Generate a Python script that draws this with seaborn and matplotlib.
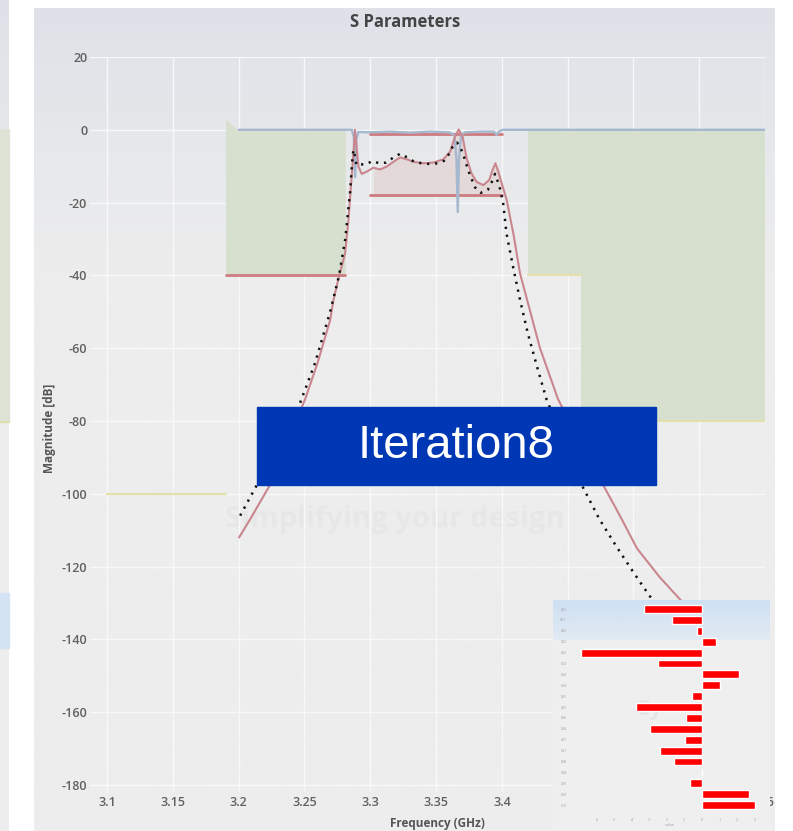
import numpy as np
import pandas as pd
import matplotlib
matplotlib.use("Agg")
import matplotlib.pyplot as plt
import seaborn as sns
from matplotlib.patches import Rectangle

# ---------------- data ----------------
red_freq = [3.2003, 3.2087, 3.2239, 3.2505, 3.2600, 3.2695, 3.2720, 3.2765, 3.2809,
            3.2834, 3.2872, 3.2884, 3.2910, 3.2935, 3.2973, 3.3024, 3.3074, 3.3125,
            3.3176, 3.3226, 3.3277, 3.3328, 3.3404, 3.3480, 3.3556, 3.3607, 3.3644,
            3.3672, 3.3702, 3.3732, 3.3770, 3.3808, 3.3859, 3.3904, 3.3930, 3.3951,
            3.3973, 3.3999, 3.4037, 3.4090, 3.4138, 3.4290, 3.4427, 3.4594, 3.4746,
            3.4897, 3.5027, 3.5202, 3.5354, 3.5500]
red_db = [-112, -107, -97.5, -74, -64, -52.3, -46.8, -39.9, -33.9,
          -24.8, -6.5, 0.0, -10.1, -12.1, -11.5, -10.4, -10.9, -10.1,
          -8.8, -7.6, -8.1, -8.8, -9.2, -9.0, -8.1, -6.0, -1.9,
          0.1, -1.9, -7.8, -12.0, -14.3, -15.2, -13.8, -11.0, -9.2,
          -11.5, -14.7, -19.3, -29, -39.4, -60, -74, -86, -96,
          -106, -115, -123, -129, -135]

dot_freq = [3.2011, 3.2109, 3.2239, 3.2353, 3.2467, 3.2581, 3.2695, 3.2763, 3.2810,
            3.2847, 3.2862, 3.2872, 3.2884, 3.2895, 3.2923, 3.2966, 3.3016, 3.3069,
            3.3120, 3.3176, 3.3226, 3.3282, 3.3335, 3.3391, 3.3454, 3.3510, 3.3561,
            3.3602, 3.3632, 3.3660, 3.3700, 3.3745, 3.3796, 3.3840, 3.3893, 3.3923,
            3.3948, 3.3981, 3.4011, 3.4035, 3.4085, 3.4138, 3.4198, 3.4267, 3.4339,
            3.4476, 3.4613, 3.4742, 3.4871, 3.5008, 3.5122, 3.5250]
dot_db = [-106, -99.5, -91, -84, -75, -64, -50, -40, -30,
          -17, -9, -5.5, -7.4, -9.7, -9.5, -9.5, -8.6, -9.2,
          -9.0, -7.6, -6.6, -7.6, -8.8, -9.2, -9.4, -9.2, -8.5,
          -6.5, -4.2, -3.5, -6.0, -11.2, -15.8, -17.3, -16.5, -14.4,
          -12.1, -15.4, -20.4, -28.4, -37.6, -46.7, -56, -65, -74,
          -86, -98, -107, -114.5, -122, -128, -134]

blue_freq = [3.2000, 3.2860, 3.2875, 3.2885, 3.2895, 3.2910, 3.3000, 3.3150, 3.3300,
             3.3450, 3.3600, 3.3640, 3.3655, 3.3665, 3.3675, 3.3690, 3.3720, 3.3850,
             3.3940, 3.3960, 3.3980, 3.4010, 3.6000]
blue_db = [0.0, 0.0, -2.0, -13.0, -2.5, -0.6, -0.7, -0.5, -0.8,
           -0.5, -0.7, -1.5, -8.0, -22.6, -8.0, -1.5, -0.7, -0.5,
           -0.5, -1.4, -0.4, 0.0, 0.0]

# spec masks
stopL_freq = [3.190, 3.199, 3.281]
stopL_top = [3.0, 0.0, 0.0]
stopL_limit = -40
stopR1_freq = [3.42, 3.46]
stopR1_limit = -40
stopR2_freq = [3.46, 3.60]
stopR2_limit = -80
farL_freq = [3.10, 3.19]
farL_limit = -100
pass_freq = [3.30, 3.40]
pass_upper = -1.2
pass_lower = -18

xticks = [3.1, 3.15, 3.2, 3.25, 3.3, 3.35, 3.4, 3.45, 3.5, 3.55, 3.6]
xtick_labels = ["3.1", "3.15", "3.2", "3.25", "3.3", "3.35", "3.4", "3.45", "3.5", "3.55", "3.6"]
yticks = [20, 0, -20, -40, -60, -80, -100, -120, -140, -160, -180]
ytick_labels = ["20", "0", "-20", "-40", "-60", "-80", "-100", "-120", "-140", "-160", "-180"]

bar_labels = ["L01", "C01", "L02", "C02", "L03", "C03", "L04", "C04", "L05", "C05",
              "L06", "C06", "L07", "C07", "L08", "C08", "L09", "C09", "L10"]
bar_values = [-3.3, -1.7, -0.3, 0.8, -6.9, -2.5, 2.1, 1.0, -0.6, -3.8,
              -0.9, -3.0, -1.0, -2.4, -1.6, 0.0, -0.7, 2.7, 3.0]
bar_ticks = [-6, -5, -4, -3, -2, -1, 0, 1, 2, 3]

# ---------------- figure ----------------
W, H = 793, 831
sns.set_theme(style="white")
plt.rcParams['font.family'] = ['Open Sans', 'DejaVu Sans']

fig = plt.figure(figsize=(W / 100, H / 100), dpi=100, facecolor="white")

# background (screenshot panels) in pixel coordinates
bg = fig.add_axes([0, 0, 1, 1], zorder=-10)
bg.set_xlim(0, W)
bg.set_ylim(H, 0)
bg.axis("off")

def vgrad(top, bottom, y0, y1, yfade):
    ys = np.linspace(y0, y1, 300)
    t = np.clip((ys - y0) / (yfade - y0), 0, 1)[:, None]
    top = np.array(top) / 255.0
    bottom = np.array(bottom) / 255.0
    return (top + (bottom - top) * t)[:, None, :]

grad = vgrad((222, 226, 232), (237, 237, 237), 8, H, 270)
bg.imshow(grad, extent=[34, 775, H, 8], aspect="auto", interpolation="bilinear", zorder=0)
grad2 = vgrad((222, 226, 232), (237, 237, 237), 0, H, 270)
bg.imshow(grad2, extent=[0, 9, H, 0], aspect="auto", interpolation="bilinear", zorder=0)
bg.add_patch(Rectangle((0, 129), 9, 293, color="#dde4d6", zorder=1))
bg.plot([0, 9], [422, 422], color="#e2dfad", lw=1.5, zorder=2)
bg.add_patch(Rectangle((0, 593), 9, 55, color="#d4e3f3", zorder=1))
bg.set_xlim(0, W)
bg.set_ylim(H, 0)
bg.text(395, 520, "Simplifying your design", ha="center", va="center",
        fontsize=21, fontweight="bold", color="#e7e7e7", zorder=3)

# main axes
y_top_px, y_bot_px = 57, 785 + 2 * 3.64
ax = fig.add_axes([90 / W, (H - y_bot_px) / H, 675 / W, (y_bot_px - y_top_px) / H], zorder=1)
ax.set_facecolor("none")
ax.set_xlim(3.087, 3.6)
ax.set_ylim(-182, 20)
ax.set_axisbelow(True)
ax.grid(True, color="#f8f8f8", lw=1.0)
for s in ax.spines.values():
    s.set_visible(False)

green = "#d7e0cf"
ax.fill_between(stopL_freq, stopL_top, stopL_limit, color=green, lw=0, zorder=1)
ax.fill_between(stopR1_freq, 0, stopR1_limit, color=green, lw=0, zorder=1)
ax.fill_between(stopR2_freq, 0, stopR2_limit, color=green, lw=0, zorder=1)

# passband shading between lower spec line and response
df_red = pd.DataFrame({"freq": red_freq, "db": red_db})
pb = df_red[(df_red.freq >= pass_freq[0]) & (df_red.freq <= pass_freq[1])]
ax.fill_between(pb.freq, pass_lower, pb.db, where=pb.db > pass_lower,
                interpolate=True, color="#e4d9d9", lw=0, zorder=1.5)

yellow = "#e3e0ac"
redspec = "#cd7b7f"
ax.plot(farL_freq, [farL_limit] * 2, color=yellow, lw=1.6, zorder=2)
ax.plot(stopR1_freq, [stopR1_limit] * 2, color=yellow, lw=1.6, zorder=2)
ax.plot(stopR2_freq, [stopR2_limit] * 2, color=yellow, lw=1.6, zorder=2)
ax.plot([stopL_freq[0], stopL_freq[-1]], [stopL_limit] * 2, color=redspec, lw=2.0, zorder=2)
ax.plot(pass_freq, [pass_upper] * 2, color=redspec, lw=2.0, zorder=2)
ax.plot(pass_freq, [pass_lower] * 2, color=redspec, lw=2.0, zorder=2)

df_blue = pd.DataFrame({"freq": blue_freq, "db": blue_db})
df_dot = pd.DataFrame({"freq": dot_freq, "db": dot_db})
sns.lineplot(data=df_blue, x="freq", y="db", color="#a6b8cf", lw=1.7, ax=ax, zorder=3)
sns.lineplot(data=df_red, x="freq", y="db", color="#c9868e", lw=1.5, ax=ax, zorder=4)
sns.lineplot(data=df_dot, x="freq", y="db", color="#111111", lw=1.8, ax=ax, zorder=5,
             linestyle=(0, (0.9, 2.3)))

ax.set_xticks(xticks)
ax.set_xticklabels(xtick_labels)
ax.set_yticks(yticks)
ax.set_yticklabels(ytick_labels)
ax.set_xlabel("")
ax.set_ylabel("")
ax.tick_params(axis="both", length=0, labelsize=9, labelcolor="#606060")
ax.tick_params(axis="x", pad=3)
ax.tick_params(axis="y", pad=2)
for lbl in ax.get_xticklabels() + ax.get_yticklabels():
    lbl.set_fontweight("semibold")
# tick labels lying under the inset panel are hidden in the reference
for pos, lbl in zip(xticks, ax.get_xticklabels()):
    if 3.43 < pos < 3.58:
        lbl.set_visible(False)

fig.text(405 / W, 1 - 22 / H, "S Parameters", ha="center", va="center",
         fontsize=12, fontweight="bold", color="#444444")
fig.text(50 / W, 1 - 428 / H, "Magnitude [dB]", ha="center", va="center", rotation=90,
         fontsize=8.5, fontweight="bold", color="#555555")
fig.text(437 / W, 1 - 824 / H, "Frequency (GHz)", ha="center", va="center",
         fontsize=8.5, fontweight="bold", color="#555555")

# banner
fig.add_artist(Rectangle((257 / W, 1 - 485 / H), (656 - 257) / W, (485 - 407) / H,
                         transform=fig.transFigure, color="#0037b5", zorder=5))
fig.text(456 / W, 1 - 446 / H, "Iteration8", ha="center", va="center",
         fontsize=34, color="white", family="Liberation Sans", zorder=6)

# inset bar chart
box = fig.add_axes([553 / W, 0, (770 - 553) / W, (H - 600) / H], zorder=10)
box.set_xlim(0, 1)
box.set_ylim(H, 600)
box.axis("off")
box.add_patch(Rectangle((0, 600), 1, H - 600, color="#efefef", zorder=0))
igrad = vgrad((206, 224, 243), (226, 234, 243), 600, 640, 640)
box.imshow(igrad, extent=[0, 1, 640, 600], aspect="auto", zorder=1)
box.set_xlim(0, 1)
box.set_ylim(H, 600)
box.text(0.45, 710, "Sy", fontsize=16, fontweight="bold", color="#e4e4e4",
         ha="center", va="center", zorder=2)

bx = fig.add_axes([568 / W, 1 - 810.6 / H, (770 - 568) / W, 207 / H], zorder=11)
bx.set_facecolor("none")
sns.barplot(x=bar_values, y=bar_labels, orient="h", color="#ff0000", saturation=1,
            width=0.72, ax=bx)
bx.set_xlim((568 - 702) / 17.5, (770 - 702) / 17.5)
for s in bx.spines.values():
    s.set_visible(False)
bx.set_xticks(bar_ticks)
bx.set_xticklabels([str(t) for t in bar_ticks])
bx.tick_params(axis="both", length=0, labelsize=2.5, labelcolor="#9a9a9a")
bx.tick_params(axis="x", pad=5)
bx.tick_params(axis="y", pad=1)
bx.set_xlabel("value", fontsize=2.5, color="#9a9a9a", labelpad=1)
bx.set_ylabel("")

fig.savefig("out.png", dpi=100, facecolor="white")
